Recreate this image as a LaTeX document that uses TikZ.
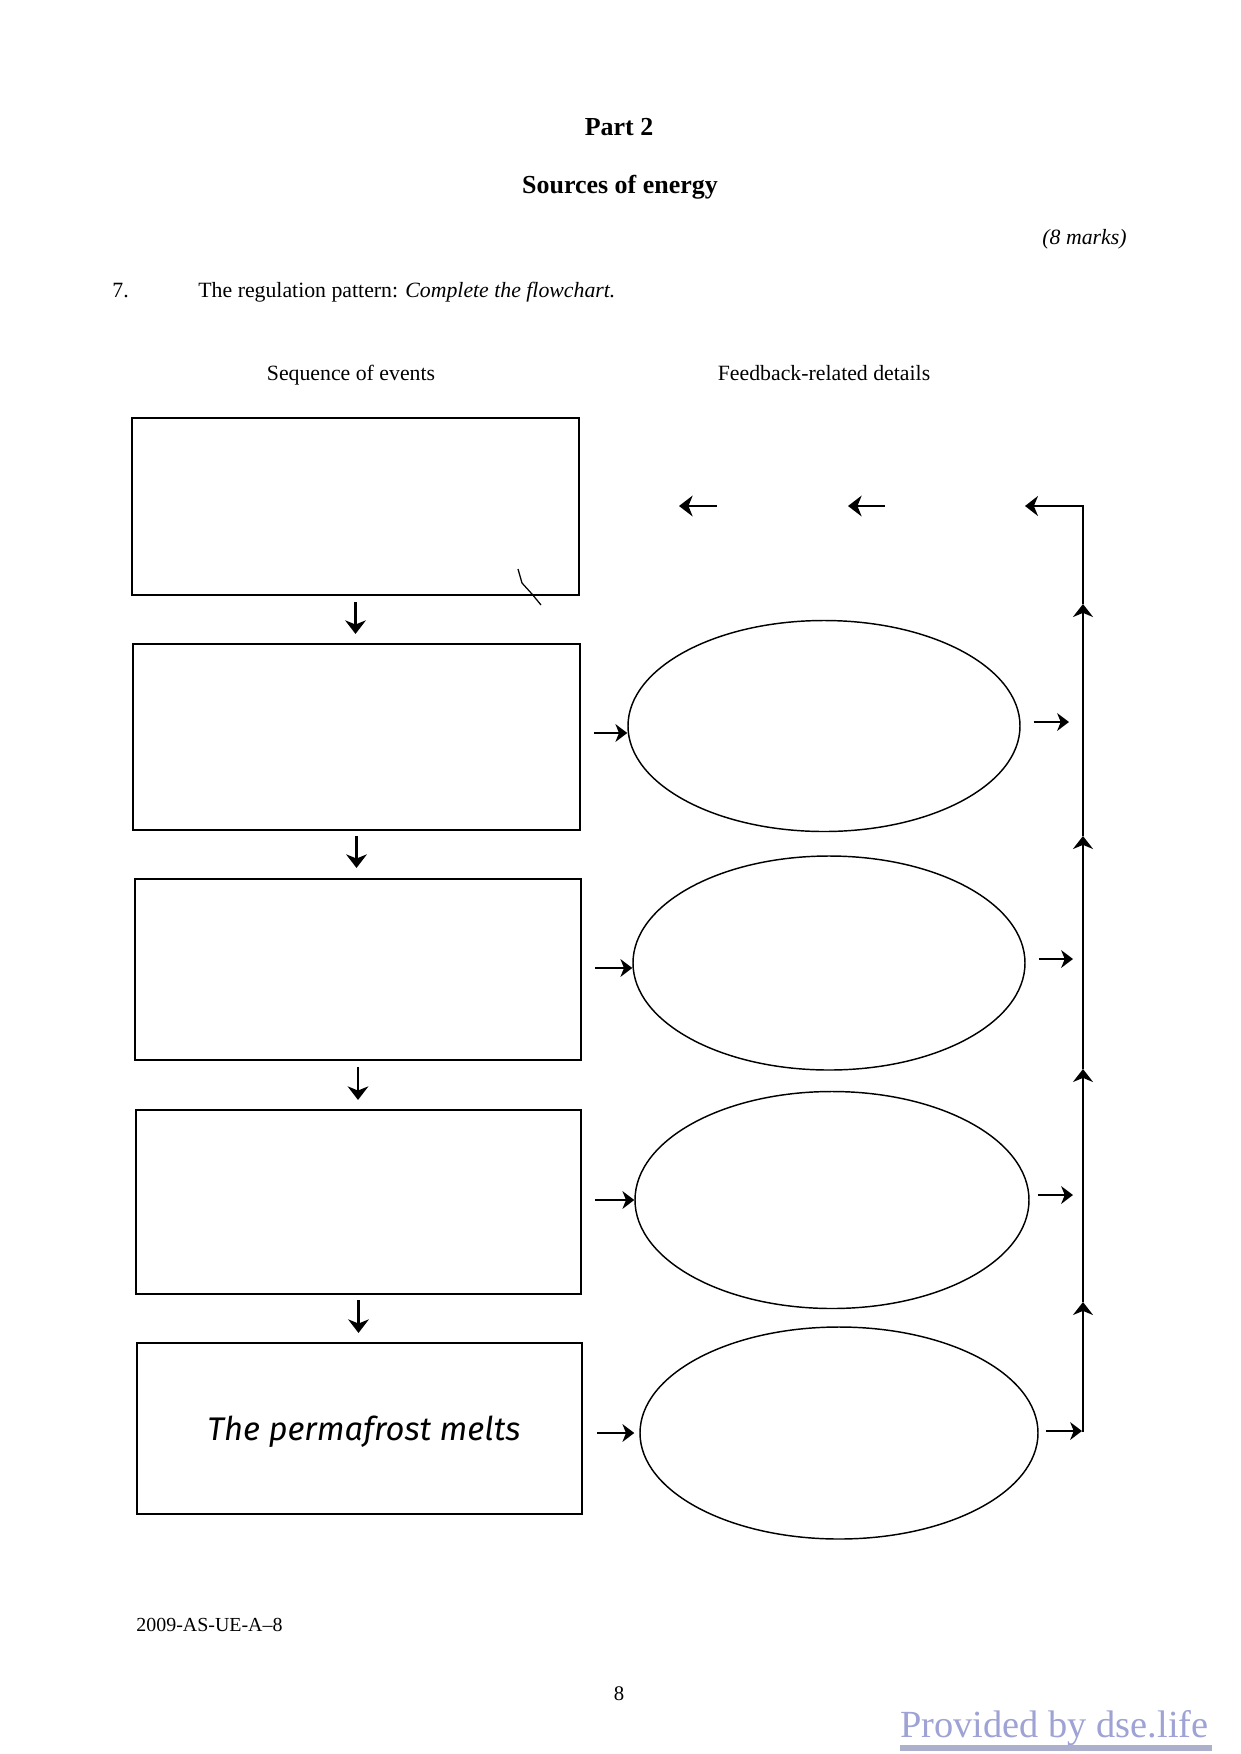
\documentclass[tikz,border=0pt]{standalone}
\usepackage{fontspec}
\setmainfont{Liberation Serif}
\newfontfamily\handfont{Fira Sans}
\usetikzlibrary{arrows.meta,shapes.geometric,calc}
\newcommand\pxu{0.16933mm}
\definecolor{wmark}{RGB}{158,162,212}
\definecolor{wline}{RGB}{172,176,204}
\tikzset{
  evbox/.style={draw,line width=1pt,rectangle,inner sep=0pt},
  fbell/.style={draw,line width=0.7pt,ellipse,inner sep=0pt},
  darr/.style={line width=1.1pt,-{Stealth[length=2.3mm,width=3.5mm,inset=0.7mm]}},
  harr/.style={line width=1pt,-{Stealth[length=2mm,width=3mm,inset=0.6mm]}},
  uarr/.style={line width=1pt,-{Stealth[length=2.2mm,width=3.4mm,inset=0.7mm]}},
  body/.style={inner sep=0pt,font=\fontsize{10.5}{12.6}\selectfont},
  head/.style={inner sep=0pt,font=\fontsize{12.5}{15}\selectfont\bfseries}
}
\begin{document}
\begin{tikzpicture}[x=0.16933mm,y=-0.16933mm]
\useasboundingbox (0,0) rectangle (1240,1754);
\fill[white] (0,0) rectangle (1240,1754);

% headings
\node[head,anchor=base] (part) at (619,135) {Part 2};
\node[head,anchor=base] (sources) at (620,193) {Sources of energy};
\node[body,anchor=base east] (marks) at (1127,244) {\itshape (8 marks)};
\node[body,anchor=base west] (qnum) at (112,297) {7.};
\node[body,anchor=base west] (qtext) at (198,297) {The regulation pattern: \textit{Complete the flowchart.}};
\node[body,anchor=base] (seqh) at (351,380) {Sequence of events};
\node[body,anchor=base] (fbh) at (824,380) {Feedback-related details};

% boxes
\node[evbox,minimum width=447*\pxu,minimum height=177*\pxu] (b1) at (355.5,506.5) {};
\node[evbox,minimum width=447*\pxu,minimum height=186*\pxu] (b2) at (356.5,737) {};
\node[evbox,minimum width=446*\pxu,minimum height=181*\pxu] (b3) at (358,969.5) {};
\node[evbox,minimum width=445*\pxu,minimum height=184*\pxu] (b4) at (358.5,1202) {};
\node[evbox,minimum width=445*\pxu,minimum height=171*\pxu] (b5) at (359.5,1428.5) {};
\node[inner sep=0pt,anchor=base] (pm) at (364,1440)
  {\resizebox{53mm}{!}{\handfont\itshape\fontsize{16}{19}\selectfont The permafrost melts}};

% scan mark
\draw[line width=0.6pt] (518,569) -- (522,583) -- (532,594) -- (541,605);

% ellipses
\node[fbell,minimum width=392*\pxu,minimum height=211*\pxu] (e1) at (824,726) {};
\node[fbell,minimum width=392*\pxu,minimum height=214*\pxu] (e2) at (829,963) {};
\node[fbell,minimum width=394*\pxu,minimum height=217*\pxu] (e3) at (832,1200) {};
\node[fbell,minimum width=398*\pxu,minimum height=212*\pxu] (e4) at (839,1433) {};

% down arrows
\draw[darr,shorten <=6*\pxu,shorten >=9*\pxu] (b1.south) -- (b1.south |- b2.north);
\draw[darr,shorten <=5*\pxu,shorten >=10*\pxu] (b2.south) -- (b2.south |- b3.north);
\draw[darr,shorten <=6*\pxu,shorten >=9*\pxu] (b3.south) -- (b3.south |- b4.north);
\draw[darr,shorten <=5*\pxu,shorten >=9*\pxu] (b4.south) -- (b4.south |- b5.north);

% box -> ellipse arrows
\draw[harr,shorten <=13*\pxu] ([yshift=-7*\pxu]b2.east |- e1.west) -- ([yshift=-7*\pxu]e1.west);
\draw[harr,shorten <=13*\pxu] ([yshift=-5*\pxu]b3.east |- e2.west) -- ([yshift=-5*\pxu]e2.west);
\draw[harr,shorten <=13*\pxu] (b4.east |- e3.west) -- (e3.west);
\draw[harr,line width=1.2pt,shorten <=14*\pxu,shorten >=5*\pxu] (b5.east |- e4.west) -- (e4.west);

% feedback line coordinates
\coordinate (v0) at (1083,1432);
\coordinate (t1) at (1083,1302);
\coordinate (t2) at (1083,1069);
\coordinate (t3) at (1083,836);
\coordinate (t4) at (1083,604);
\coordinate (cr) at (1083,506);
\coordinate (a3) at (1025,506);
\coordinate (m2s) at (885,506);
\coordinate (m2e) at (848,506);
\coordinate (m1s) at (717,506);
\coordinate (m1e) at (679,506);

% ellipse -> line arrows
\draw[harr,shorten <=13*\pxu,shorten >=14*\pxu] ([yshift=4*\pxu]e1.east) -- ([yshift=4*\pxu]e1.east -| cr);
\draw[harr,shorten <=13*\pxu,shorten >=10*\pxu] ([yshift=4*\pxu]e2.east) -- ([yshift=4*\pxu]e2.east -| cr);
\draw[harr,shorten <=8*\pxu,shorten >=10*\pxu] ([yshift=5*\pxu]e3.east) -- ([yshift=5*\pxu]e3.east -| cr);
\draw[harr,line width=1.2pt,shorten <=7*\pxu,shorten >=1*\pxu] ([yshift=2*\pxu]e4.east) -- ([yshift=2*\pxu]e4.east -| cr);

% vertical feedback line with upward arrowheads
\draw[uarr] (v0) -- (t1);
\draw[uarr] (t1) -- (t2);
\draw[uarr] (t2) -- (t3);
\draw[uarr] (t3) -- (t4);
\draw[uarr] (t4) -- (cr) -- (a3);
\draw[darr] (m2s) -- (m2e);
\draw[darr] (m1s) -- (m1e);

% footer
\node[inner sep=0pt,anchor=base west,font=\fontsize{9.6}{12}\selectfont] (code) at (136,1631) {2009-AS-UE-A–8};
\node[inner sep=0pt,anchor=base,font=\fontsize{10}{12}\selectfont] (pg) at (619,1700) {8};
\node[inner sep=0pt,anchor=base west,text=wmark,font=\fontsize{18.5}{22}\selectfont] (wm) at (900,1737) {Provided by dse.life};
\coordinate (ul0) at (900,1748);
\coordinate (ul1) at (1212,1748);
\draw[wline,line width=2.5pt] (ul0) -- (ul1);
\end{tikzpicture}
\end{document}
